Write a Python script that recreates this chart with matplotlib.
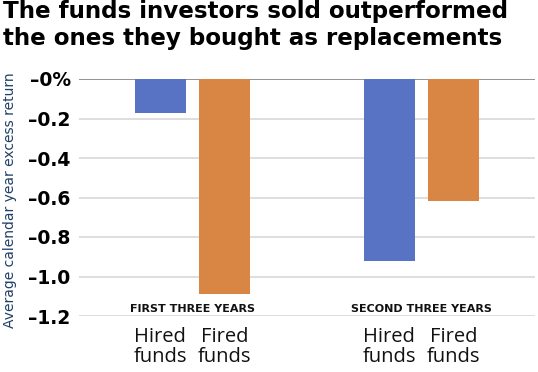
import matplotlib.pyplot as plt
import numpy as np

# data
groups = ["FIRST THREE YEARS", "SECOND THREE YEARS"]
categories = ["Hired\nfunds", "Fired\nfunds"]
hired = [-0.17, -0.92]
fired = [-1.09, -0.62]
yticks = [0, -0.2, -0.4, -0.6, -0.8, -1.0, -1.2]
ytick_labels = ["\u20130%", "\u20130.2", "\u20130.4", "\u20130.6", "\u20130.8", "\u20131.0", "\u20131.2"]

blue = "#5872c4"
orange = "#d98544"

fig = plt.figure(figsize=(5.38, 3.72), dpi=100)
ax = fig.add_axes([79/538, 1 - 316/372, 456/538, 237/372])

pos_h = np.array([0, 3.55])
pos_f = pos_h + 1.0
ax.bar(pos_h, hired, width=0.79, color=blue, zorder=3)
ax.bar(pos_f, fired, width=0.79, color=orange, zorder=3)

ax.set_xlim(-1.26, 5.81)
ax.set_ylim(-1.2, 0)
ax.set_yticks(yticks)
ax.set_yticklabels(ytick_labels, fontsize=13.5, fontweight="bold", family="DejaVu Sans")
ax.tick_params(axis="y", length=0, pad=6)
ax.tick_params(axis="x", length=0)
ax.set_xticks([])
for s in ax.spines.values():
    s.set_visible(False)
for t in yticks:
    ax.axhline(t, color="#d8d8d8" if t != 0 else "#8a8a8a", lw=1.2 if t != 0 else 1.3, zorder=1)

# group labels inside the axes
for i, g in enumerate(groups):
    cx = (pos_h[i] + pos_f[i]) / 2
    ax.text(cx, -1.165, g, ha="center", va="center", fontsize=8, fontweight="bold",
            family="DejaVu Sans", color="#111111")

# category labels below
for i in range(len(groups)):
    for p, c in zip([pos_h[i], pos_f[i]], categories):
        ax.text(p, -1.255, c, ha="center", va="top", fontsize=14.5, family="Open Sans",
                color="#111111", linespacing=0.98)

ax.set_ylabel("Average calendar year excess return", fontsize=10, color="#1f3f66",
              family="DejaVu Sans")
ax.yaxis.set_label_coords(-62/456, 0.49)

fig.text(3/538, 1 - 0/372, "The funds investors sold outperformed\nthe ones they bought as replacements",
         ha="left", va="top", fontsize=16.6, fontweight="bold", family="DejaVu Sans",
         linespacing=1.2)

fig.savefig("out.png", dpi=100)
